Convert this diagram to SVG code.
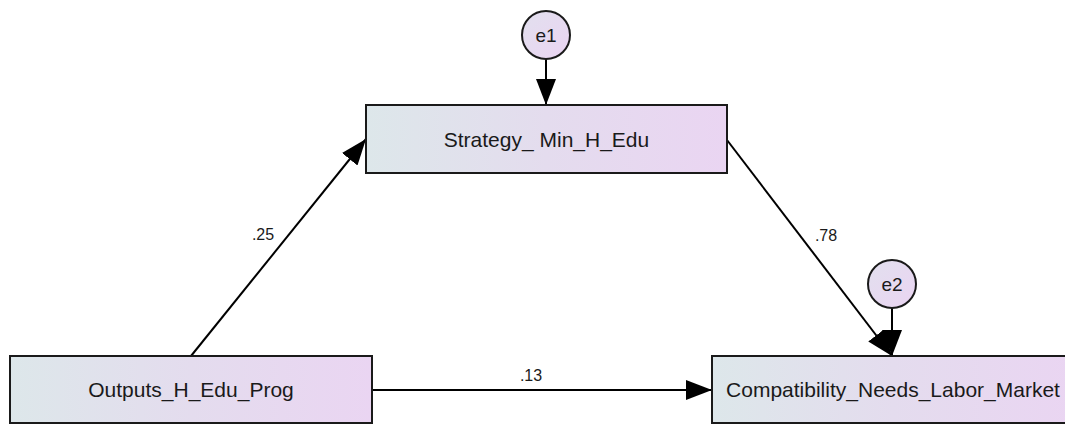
<svg xmlns="http://www.w3.org/2000/svg" width="1065" height="425" viewBox="0 0 1065 425">
<style>
.box{stroke:#1a1a1a;stroke-width:2;fill:url(#g)}
.circ{stroke:#1a1a1a;stroke-width:2;fill:url(#gc)}
.t{font-family:"Liberation Sans",Arial,sans-serif;font-size:21px;fill:#1a1a1a;text-anchor:middle;dominant-baseline:central}
.te{font-family:"Liberation Sans",Arial,sans-serif;font-size:19px;fill:#1a1a1a;text-anchor:middle;dominant-baseline:central}
.lbl{font-family:"Liberation Sans",Arial,sans-serif;font-size:16px;fill:#1a1a1a;text-anchor:middle}
.c{stroke:#000;stroke-width:2;fill:none;marker-end:url(#ah)}
</style>
<defs>
<linearGradient id="g" x1="0" y1="0" x2="1" y2="0">
<stop offset="0" stop-color="#dde7ea"/>
<stop offset="0.5" stop-color="#e4dcee"/>
<stop offset="1" stop-color="#ead5f2"/>
</linearGradient>
<linearGradient id="gc" x1="0" y1="0" x2="1" y2="1">
<stop offset="0" stop-color="#e2e0ee"/>
<stop offset="1" stop-color="#ead4f2"/>
</linearGradient>
<marker id="ah" viewBox="0 0 26 20" refX="26" refY="10" markerWidth="26" markerHeight="20" markerUnits="userSpaceOnUse" orient="auto">
<path d="M0,0 L26,10 L0,20 Z" fill="#000"/>
</marker>
</defs>
<g id="connectors">
<line class="c" x1="546" y1="59" x2="546" y2="105"/>
<line class="c" x1="892" y1="308" x2="892" y2="356"/>
<line class="c" x1="191" y1="356" x2="366" y2="139"/>
<line class="c" x1="727" y1="140" x2="892" y2="356"/>
<line class="c" x1="372" y1="390" x2="712" y2="390"/>
<text class="lbl" x="263" y="240">.25</text>
<text class="lbl" x="826" y="241">.78</text>
<text class="lbl" x="531" y="381">.13</text>
</g>
<g id="e1">
<circle class="circ" cx="546" cy="35" r="24"/>
<text class="te" x="546" y="35">e1</text>
</g>
<g id="e2">
<circle class="circ" cx="892" cy="284" r="24"/>
<text class="te" x="892" y="284">e2</text>
</g>
<g id="strategy">
<rect class="box" x="366" y="105" width="361" height="68"/>
<text class="t" x="546.5" y="139">Strategy_ Min_H_Edu</text>
</g>
<g id="outputs">
<rect class="box" x="10" y="356" width="362" height="67"/>
<text class="t" x="191" y="389.5">Outputs_H_Edu_Prog</text>
</g>
<g id="compat">
<rect class="box" x="712" y="356" width="362" height="67"/>
<text class="t" x="893" y="389.5">Compatibility_Needs_Labor_Market</text>
</g>
</svg>
